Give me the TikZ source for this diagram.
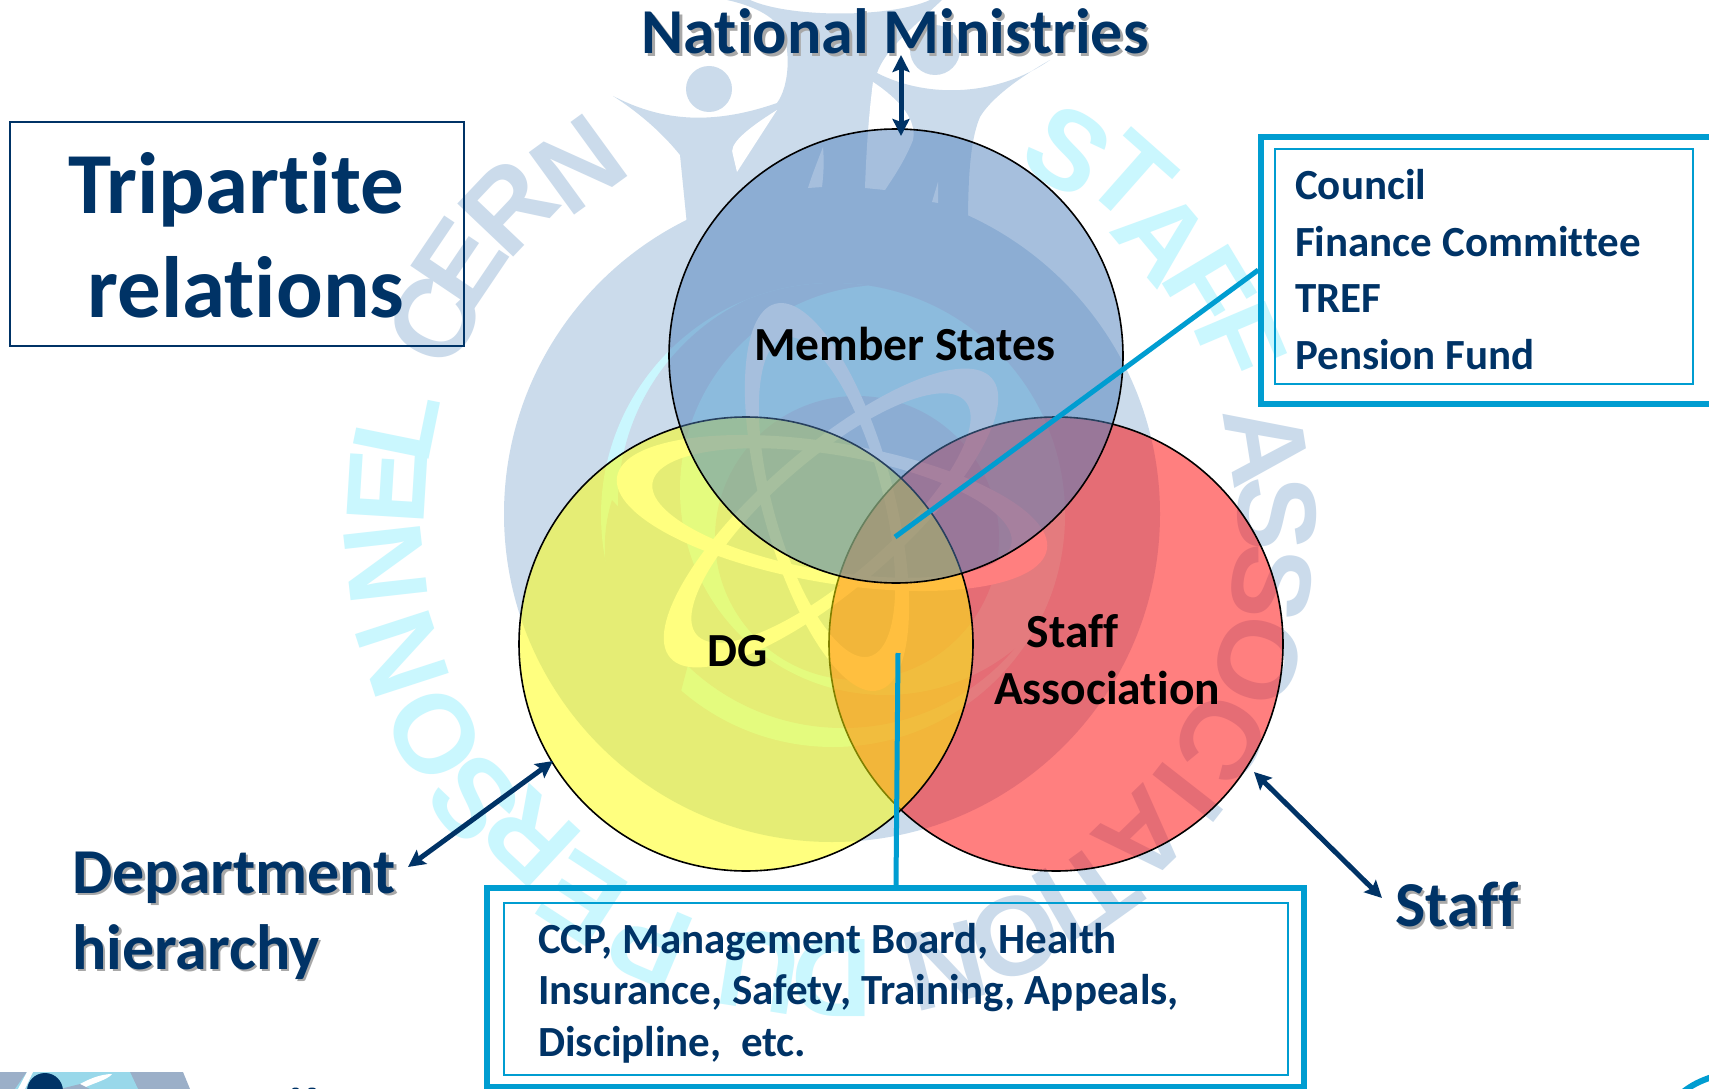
\documentclass[tikz,border=0pt]{standalone}
\usepackage{fontspec}
\setmainfont{Carlito}[Ligatures=NoCommon]
\newfontfamily\wmfont{Liberation Sans}
\usetikzlibrary{arrows.meta}
\definecolor{navy}{HTML}{003366}
\definecolor{wmblue}{HTML}{CBDBEB}
\definecolor{wmcyan}{HTML}{CAF7FE}
\definecolor{tealline}{HTML}{009DD1}
\definecolor{shadowc}{HTML}{A8A8A8}
\definecolor{setblue}{HTML}{4F81BD}
\definecolor{setyellow}{HTML}{FFFF00}
\definecolor{setred}{HTML}{FF0000}
\definecolor{logogrey}{HTML}{9BAFC8}
\definecolor{logosky}{HTML}{99D8EA}
\newcommand{\shadowed}[1]{\leavevmode\rlap{\kern2.5pt\raisebox{-2.5pt}{\textcolor{shadowc}{#1}}}#1}
\tikzset{
  setcircle/.style={circle,minimum size=454pt,inner sep=0pt,outer sep=0pt,draw=black,line width=1.6pt,fill opacity=0.5,draw opacity=1},
  wmletter/.style={font=\wmfont\bfseries\fontsize{112}{112}\selectfont,inner sep=0pt},
  twoway/.style={draw=navy,line width=5pt,{Stealth[length=17pt,width=17pt,inset=3pt]}-{Stealth[length=17pt,width=17pt,inset=3pt]}},
  leader/.style={draw=tealline,line width=5pt},
  outerbox/.style={draw=tealline,line width=5.5pt,inner sep=0pt,rectangle},
  innerbox/.style={draw=tealline,line width=2pt,inner sep=0pt,rectangle},
  setlabel/.style={font=\bfseries\fontsize{47.5}{57}\selectfont,text=black,align=center,inner sep=0pt},
  listtext/.style={font=\bfseries\fontsize{43}{56.7}\selectfont,text=navy,align=left,inner sep=0pt,anchor=north west},
  bigtext/.style={font=\bfseries\fontsize{64}{76}\selectfont,text=navy,inner sep=0pt}
}
\begin{document}
\begin{tikzpicture}[x=1pt,y=-1pt]
\useasboundingbox (0,0) rectangle (1709,1089);
\fill[white] (0,0) rectangle (1709,1089);
\begin{scope}
\clip (0,0) rectangle (1709,1089);
% watermark: body
\fill[wmblue] (832,514) circle[radius=328];
\fill[wmblue] (687,225) -- (680,155) .. controls (660,130) and (635,110) .. (613,96)
  .. controls (650,115) and (700,130) .. (777,103)
  .. controls (790,85) and (790,50) .. (783,33)
  .. controls (775,15) and (750,5) .. (727,0)
  -- (750,0) .. controls (790,18) and (890,18) .. (930,0)
  -- (942,0) .. controls (910,30) and (885,50) .. (877,73)
  .. controls (930,100) and (1000,95) .. (1050,60)
  .. controls (1015,80) and (990,100) .. (980,117)
  .. controls (970,140) and (968,180) .. (968,225) -- cycle;
\fill[wmblue] (709,89) circle[radius=23];
\fill[wmblue] (935,50) circle[radius=25];
\fill[white] (777,110) .. controls (745,130) and (728,145) .. (733,155) -- (737,172) -- cycle;
\fill[white] (808,188) -- (822,187) .. controls (824,170) and (824,160) .. (823,147) .. controls (818,160) and (812,175) .. (808,188) -- cycle;
\fill[white] (873,82) .. controls (868,120) and (866,160) .. (865,188) -- (885,190) .. controls (895,175) and (905,160) .. (913,140) .. controls (917,120) and (900,100) .. (873,82) -- cycle;
\fill[white] (932,202) -- (938,203) -- (938,182) -- cycle;
% watermark: globe
\fill[wmcyan] (833,515) circle[radius=232];
\begin{scope}
\clip (833,515) circle[radius=232];
\fill[wmblue] (843,503) circle[radius=225];
\fill[wmcyan] (885,490) circle[radius=205];
\end{scope}
\fill[wmblue] (612,500) .. controls (590,570) and (620,650) .. (680,695) -- (705,600) -- cycle;
\fill[wmblue] (857,538) circle[radius=142];
% watermark: atom
\fill[white,even odd rule,shift={(832,513)},rotate=-9.6] (0,0) ellipse[x radius=218,y radius=70] (0,0) ellipse[x radius=182,y radius=58];
\fill[white,even odd rule,shift={(831,518)},rotate=41] (0,0) ellipse[x radius=213,y radius=70] (0,0) ellipse[x radius=178,y radius=58];
\fill[white,even odd rule,shift={(827,497)},rotate=-75] (0,0) ellipse[x radius=200,y radius=66] (0,0) ellipse[x radius=165,y radius=55];
% watermark: lettering
\foreach \ch/\th/\rr [count=\i] in {C/-64/442,E/-56/449,R/-46.5/446,N/-36/432,
   A/81/440,S/90/445,S/99/445,O/109/450,C/120/450,I/128/452,A/136/448,T/144.5/458,I/150/452,O/156.5/460,N/166/465}
  \node[wmletter,text=wmblue,rotate=-\th] (wmb\i) at ({832+\rr*sin(\th)},{514-\rr*cos(\th)}) {\ch};
\foreach \ch/\th/\rr [count=\i] in {S/33/433,T/41.5/450,A/50/432,F/59/440,F/67/444,
   D/180/464,U/189/462,P/203/465,E/213/459,R/223/442,S/231.5/458,O/241/454,N/252/452,N/263.6/449,E/273.5/446,L/281.5/444}
  \node[wmletter,text=wmcyan,rotate=-\th] (wmc\i) at ({832+\rr*sin(\th)},{514-\rr*cos(\th)}) {\ch};
% bottom corner logo, cut by the edge of the picture
\fill[logogrey] (0,1072) rectangle (183,1089) (183,1072) -- (190,1089) -- (183,1089) -- cycle;
\fill[logosky] (27,1072) -- (130,1072) -- (138,1089) -- (15,1089) -- cycle;
\fill[white] (18,1089) -- (27,1072) -- (33,1072) -- (25,1089) -- cycle;
\fill[white] (72,1089) .. controls (85,1080) and (100,1074) .. (112,1074) .. controls (108,1080) and (90,1084) .. (82,1089) -- cycle;
\fill[logogrey] (60,1089) -- (80,1084) -- (90,1089) -- cycle;
\fill[navy] (45,1091) circle[radius=18];
\fill[navy] (292,1089) .. controls (293,1087) and (298,1087) .. (299,1089) -- cycle;
\fill[navy] (308,1089) .. controls (309,1087) and (315,1087) .. (316,1089) -- cycle;
% bottom right arc
\draw[tealline,line width=6pt] (1683,1092) .. controls (1692,1085) and (1700,1081) .. (1712,1077);
\end{scope}
% venn circles
\node[setcircle,fill=setred] (staffset) at (1056,644) {};
\node[setcircle,fill=setyellow] (dgset) at (746,644) {};
\node[setcircle,fill=setblue] (memberset) at (896,356) {};
% title
\node[draw=navy,line width=2pt,rectangle,minimum width=454pt,minimum height=224pt,inner sep=0pt] (titlebox) at (237,234) {};
\node[font=\bfseries\fontsize{87}{104}\selectfont,text=navy,align=center,inner sep=0pt] (title) at (236,235) {Tripartite\\ \ relations};
% labels
\node[setlabel] (memberlab) at (905,344) {Member States};
\node[setlabel] (dglab) at (738,651) {DG};
\node[setlabel,anchor=north] (stafflab) at (1107,614) {\makebox[0pt]{\kern-69pt Staff}\\Association};
\node[bigtext] (national) at (895,33) {\shadowed{National Ministries}};
\node[bigtext,anchor=west] (dept1) at (72,879) {\shadowed{Department}};
\node[bigtext,anchor=west] (dept2) at (72,953) {\shadowed{hierarchy}};
\node[bigtext,anchor=west] (staffout) at (1395,906) {\shadowed{Staff}};
% boxes
\node[outerbox,minimum width=455pt,minimum height=267pt] (rightouter) at (1488.5,270.5) {};
\node[innerbox,minimum width=418pt,minimum height=235pt] (rightinner) at (1484,266.5) {};
\node[listtext] (rightlist) at (1295,169) {Council\\Finance Committee\\TREF\\Pension Fund};
\node[outerbox,minimum width=817pt,minimum height=199pt] (bottomouter) at (895.5,987.5) {};
\node[innerbox,minimum width=784pt,minimum height=172pt] (bottominner) at (896,989) {};
\node[listtext,font=\bfseries\fontsize{43}{51.5}\selectfont] (bottomlist) at (538,923) {CCP, Management Board, Health\\Insurance, Safety, Training, Appeals,\\Discipline,~ etc.};
% connectors
\coordinate (toMiddle) at (895,537);
\coordinate (toOrange) at (898,653);
\coordinate (natTip) at (901,55);
\coordinate (memTip) at (901,136);
\coordinate (deptTip) at (408,867);
\coordinate (dgTip) at (553,761);
\coordinate (staffTip) at (1254,772);
\coordinate (staffOutTip) at (1382,898);
\draw[leader] (rightouter.west |- 0,270) -- (toMiddle);
\draw[leader] (bottomouter.north -| 896,0) -- (toOrange);
\draw[twoway] (natTip) -- (memTip);
\draw[twoway] (deptTip) -- (dgTip);
\draw[twoway] (staffTip) -- (staffOutTip);
\end{tikzpicture}
\end{document}
